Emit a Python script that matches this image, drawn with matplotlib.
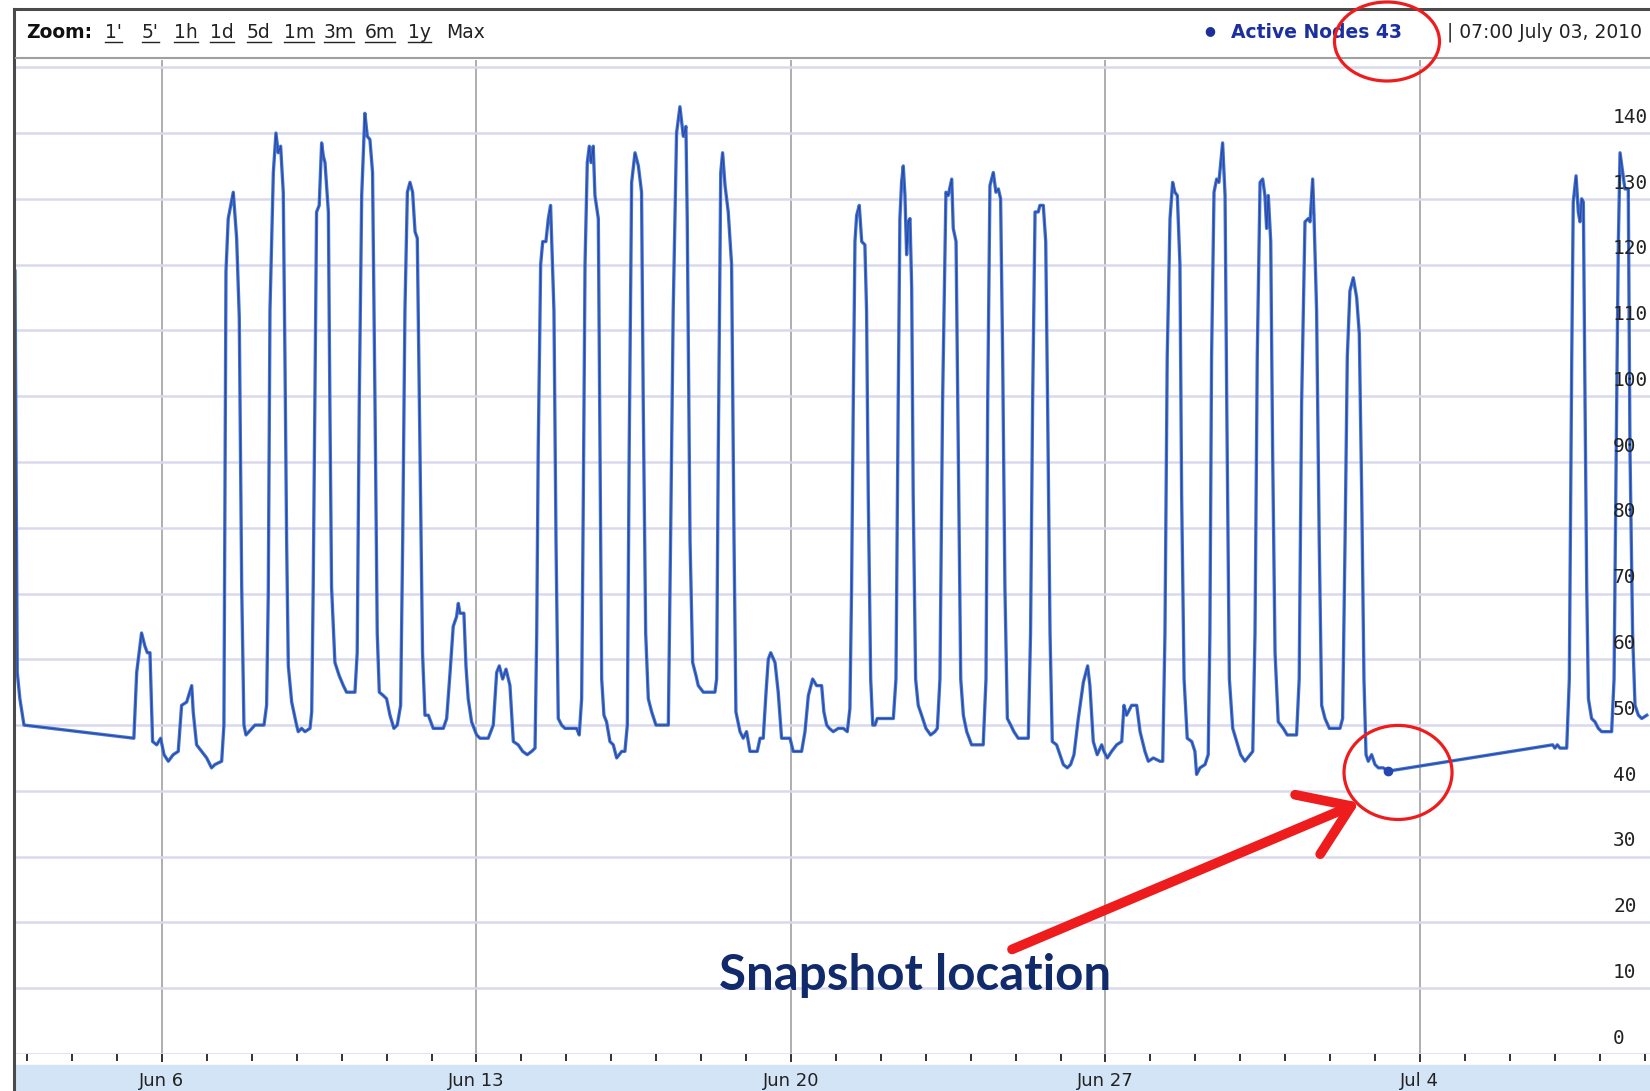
import matplotlib
matplotlib.use("Agg")
import pandas as pd
import matplotlib.pyplot as plt
import matplotlib.dates as mdates
import matplotlib.transforms as mtransforms
from matplotlib.patches import Ellipse, Rectangle
from matplotlib.lines import Line2D

# active nodes, hours after 2010-06-06 00:00
hours = [
    -78.5, -77.3, -75.9, -73.7, -15.0, -13.5, -10.9, -9.1, -7.8, -6.4,
    -5.0, -2.8, -0.7, 1.1, 3.4, 6.0, 8.7, 10.5, 13.2, 15.9,
    16.7, 18.5, 21.2, 23.9, 26.5, 28.3, 31.9, 33.1, 34.2, 35.4,
    38.1, 39.9, 41.3, 42.6, 43.8, 44.9, 49.7, 54.5, 55.9, 56.8,
    57.7, 59.5, 60.9, 62.1, 63.4, 64.8, 65.7, 66.6, 67.5, 69.3,
    71.9, 72.8, 74.6, 76.4, 79.1, 80.0, 80.8, 81.7, 82.6, 84.0,
    85.3, 86.2, 87.1, 88.9, 89.7, 90.6, 92.4, 94.7, 96.9, 98.6,
    103.1, 104.3, 105.4, 106.7, 108.4, 109.7, 111.1, 112.5, 113.8, 115.0,
    116.1, 118.2, 120.0, 121.8, 123.9, 125.7, 127.5, 128.6, 129.8, 131.1,
    132.5, 133.9, 135.2, 136.4, 137.8, 139.2, 140.5, 142.3, 144.9, 150.3,
    152.1, 153.9, 155.6, 157.4, 158.3, 159.2, 161.3, 162.4, 163.6, 165.4,
    168.1, 169.9, 174.3, 177.0, 178.8, 180.2, 182.0, 183.8, 185.9, 187.7,
    190.3, 192.7, 195.1, 197.5, 199.3, 200.2, 201.0, 202.3, 203.4, 205.1,
    206.4, 207.6, 209.4, 210.5, 211.7, 213.5, 215.3, 221.5, 222.9, 224.2,
    225.1, 226.0, 227.2, 228.3, 229.2, 230.4, 231.3, 233.1, 234.0, 234.9,
    236.1, 237.5, 239.3, 241.1, 242.9, 245.6, 247.3, 248.6, 249.6, 250.9,
    252.7, 254.5, 256.2, 257.1, 258.4, 259.8, 261.6, 263.9, 270.5, 271.7,
    273.1, 274.9, 276.7, 278.5, 279.9, 280.6, 282.1, 283.5, 285.3, 286.5,
    289.2, 295.4, 296.3, 297.2, 298.5, 299.5, 300.8, 302.5, 304.3, 305.6,
    306.6, 308.8, 310.5, 312.3, 314.1, 318.0, 319.5, 321.2, 322.7, 323.9,
    325.2, 327.5, 329.2, 331.0, 335.5, 337.2, 341.7, 343.5, 345.3, 347.6,
    349.7, 352.4, 353.6, 355.1, 356.5, 358.6, 361.3, 364.0, 366.1, 367.5,
    368.4, 369.3, 370.2, 371.1, 372.5, 373.8, 375.5, 376.4, 377.3, 378.6,
    379.7, 380.9, 382.1, 390.7, 392.1, 393.3, 394.2, 395.1, 396.0, 396.9,
    397.8, 398.7, 399.6, 400.5, 401.3, 402.6, 404.0, 405.8, 408.1, 410.6,
    412.9, 414.2, 415.6, 417.0, 418.8, 420.0, 421.9, 422.7, 424.2, 425.4,
    426.7, 428.1, 429.9, 432.5, 438.7, 440.2, 441.1, 442.3, 444.1, 445.5,
    446.8, 448.0, 449.1, 450.3, 451.6, 453.4, 455.1, 457.4, 462.8, 464.0,
    465.1, 466.4, 468.1, 469.0, 470.8, 472.1, 473.1, 474.4, 475.6, 477.9,
    479.7, 481.5, 483.6, 485.4, 487.2, 489.5, 492.2, 494.5, 495.7, 497.5,
    499.6, 502.0, 503.2, 505.0, 507.3, 510.0, 512.7, 513.9, 515.3, 518.0,
    520.7, 522.5, 525.1, 526.9, 529.6, 533.1, 534.6, 535.8, 537.0, 538.5,
    539.9, 541.1, 542.4, 543.8, 544.7, 546.0, 547.7, 550.1, 551.8, 552.7,
    554.5, 557.2, 558.9, 559.8, 560.7, 562.0, 563.4, 564.6, 566.6, 567.9,
    568.8, 570.2, 572.0, 574.1, 576.2, 578.5, 582.7, 583.9, 585.1, 586.6,
    588.0, 589.2, 590.1, 591.0, 592.3, 593.3, 594.6, 596.3, 599.0, 601.1,
    606.1, 607.5, 608.8, 610.6, 612.4, 613.3, 614.7, 615.4, 616.8, 618.2,
    619.5, 621.3, 623.6, 629.3, 630.7, 632.0, 633.2, 634.6, 636.4, 638.2,
    639.6, 640.9, 642.1, 643.2, 644.4, 646.2, 648.0, 649.8, 652.4, 655.0,
    742.9, 744.1, 745.4, 746.8, 750.4, 751.8, 753.1, 753.9, 755.4, 756.6,
    757.5, 758.4, 759.3, 760.2, 761.1, 762.0, 763.7, 765.5, 767.3, 769.1,
    774.4, 775.7, 777.1, 778.0, 778.9, 780.3, 781.5, 783.3, 784.2, 785.6,
    786.9, 788.7, 790.5, 793.2,
]
nodes = [
    119, 58, 54, 50, 48, 58, 64, 62, 61, 61,
    47.5, 47, 48, 45.5, 44.5, 45.5, 46, 53, 53.5, 56,
    52, 47, 46, 45, 43.5, 44, 44.5, 50, 119, 127,
    131, 124, 112, 71, 50, 48.5, 50, 50, 53, 70,
    113, 134, 140, 137, 138, 131, 106, 78, 59, 53.5,
    50, 49, 49.5, 49, 49.5, 52, 71, 99, 128, 129,
    138.5, 136.5, 135.5, 128, 99, 71, 59.5, 57.5, 56, 55,
    55, 61, 99, 130.5, 143, 139.5, 139, 134, 99, 64,
    55, 54.5, 54, 51.5, 49.5, 50, 53, 78, 113, 131,
    132.5, 131, 125, 124, 92, 61, 51.5, 51.5, 49.5, 49.5,
    51, 58, 65, 66.5, 68.5, 67, 67, 59, 54, 50.5,
    48.5, 48, 48, 50, 58, 59, 57, 58.5, 56, 47.5,
    47, 46, 45.5, 46, 46.5, 64, 92, 120, 123.5, 123.5,
    127, 129, 113, 78, 51, 50, 49.5, 49.5, 48.5, 54,
    85, 120, 135.5, 138, 135.5, 138, 130.5, 127, 92, 57,
    51.5, 50.5, 47.5, 47, 45, 46, 46, 50, 92, 132.5,
    137, 135, 131, 99, 64, 54, 52, 50, 50, 78,
    113, 140, 144, 139.5, 141, 127, 78, 59.5, 57.5, 56,
    55, 55, 57, 92, 134, 137, 132, 128, 120, 78,
    52, 49, 48, 49, 46, 46, 48, 48, 55, 60,
    61, 59.5, 55, 48, 48, 46, 46, 49, 54.5, 57,
    56, 56, 52, 50, 49.5, 49, 49.5, 49.5, 49, 52.5,
    71, 99, 123.5, 127.5, 129, 123.5, 123, 113, 85, 57,
    50, 50, 51, 51, 57, 99, 127, 132.5, 135, 130.5,
    121.5, 126.5, 127, 116.5, 85, 57, 53, 51.5, 49.5, 48.5,
    49, 49.5, 57, 99, 131, 130.5, 133, 125.5, 123.5, 92,
    57, 51.5, 49, 47, 47, 57, 99, 132, 134, 131,
    131.5, 130, 106, 71, 51, 50, 49, 48, 48, 64,
    99, 128, 128, 129, 129, 123.5, 99, 64, 47.5, 47,
    45.5, 44, 43.5, 44, 45.5, 51, 56.5, 59, 56, 47.5,
    45.5, 47, 46, 45, 46, 47, 47.5, 53, 51.5, 53,
    53, 49, 46, 44.5, 45, 44.5, 44.5, 64, 106, 127,
    132.5, 131, 130.5, 120, 85, 57, 48, 47.5, 46, 42.5,
    43.5, 44, 45.5, 64, 106, 131, 133, 132.5, 138.5, 130.5,
    99, 57, 49.5, 47.5, 45.5, 44.5, 46, 64, 106, 132.5,
    133, 130.5, 125.5, 130.5, 123.5, 92, 61, 50.5, 49.5, 48.5,
    48.5, 57, 99, 126.5, 127, 126.5, 133, 127.5, 113, 78,
    53, 51, 49.5, 49.5, 51, 78, 106, 116, 118, 115,
    109.5, 85, 57, 45.5, 44.5, 45.5, 44, 43.5, 43.5, 43,
    47, 46.5, 47, 46.5, 46.5, 57, 106, 129.5, 133.5, 128,
    126.5, 130, 129.5, 99, 71, 54, 51, 50.5, 49.5, 49,
    49, 57, 99, 123.5, 137, 134, 131.5, 131.5, 92, 64,
    53, 51.5, 51, 51.5,
]

start = pd.Timestamp("2010-06-06")
week_days = ["2010-06-06", "2010-06-13", "2010-06-20", "2010-06-27", "2010-07-04"]
week_labels = ["Jun 6", "Jun 13", "Jun 20", "Jun 27", "Jul 4"]
y_levels = list(range(0, 160, 10))
zoom_links = ["1'", "5'", "1h", "1d", "5d", "1m", "3m", "6m", "1y"]
snap_time = pd.Timestamp("2010-07-03 07:00")
snap_value = 43

W, H = 1650, 1091
RED = "#ee1c1c"
NAVY = "#1b2f9e"


def fx(x):
    return x / W


def fy(y):
    return 1 - y / H


fig = plt.figure(figsize=(W / 100, H / 100), dpi=100)
fig.patch.set_facecolor("white")

# blue date band under the axis
fig.add_artist(Rectangle((fx(15), 0), 1 - fx(15), 26 / H, transform=fig.transFigure,
                         color="#d3e4f7", zorder=-1))

ax = fig.add_axes([fx(15), fy(1054), 1 - fx(15), (1054 - 60) / H])
times = start + pd.to_timedelta(hours, unit="h")
ax.plot(times, nodes, color="#4275d2", lw=2.4, solid_joinstyle="round")
ax.plot(times, nodes, color="#22318f", lw=0.8, alpha=0.7)
ax.plot([snap_time], [snap_value], "o", color="#2447b0", ms=6)

ax.set_xlim(start + pd.Timedelta(hours=-78.5), start + pd.Timedelta(hours=794.9))
ax.set_ylim(0, 151.1)
ax.set_yticks(y_levels)
ax.yaxis.grid(True, color="#d9d9ec", lw=1.8)
ax.tick_params(axis="y", left=False, labelleft=False)
ax.set_xticks(pd.to_datetime(week_days))
ax.set_xticklabels(week_labels)
ax.xaxis.set_minor_locator(mdates.DayLocator())
ax.xaxis.grid(True, which="major", color="#a8a8a8", lw=1.3)
ax.set_axisbelow(True)
ax.tick_params(axis="x", which="both", direction="out", color="#333333", width=1.4,
               length=5, pad=7, labelsize=13, labelcolor="#222222")
ax.tick_params(axis="x", which="major", length=6)
for s in ax.spines.values():
    s.set_visible(False)

# value labels sit just above their grid lines, inside the plot
lab_tr = mtransforms.blended_transform_factory(ax.transAxes, ax.transData)
for v in y_levels:
    ax.text(0.9774, v + 2.4, str(v), transform=lab_tr, fontsize=14, clip_on=True,
            family="DejaVu Sans Mono", color="#222222", va="center", ha="left")

# frame and header
fig.add_artist(Line2D([fx(14), 1], [fy(9), fy(9)], color="#4a4a4a", lw=2.2))
fig.add_artist(Line2D([fx(14), fx(14)], [0, fy(9)], color="#4a4a4a", lw=2.2))
fig.add_artist(Line2D([fx(16), 1], [fy(58), fy(58)], color="#a0a0a0", lw=1.5))

fig.text(fx(26), fy(33), "Zoom:", fontsize=13.5, weight="bold", va="center", color="#111111")
link_x = [105, 142, 174, 210, 247, 284, 324, 365, 408]
renderer = fig.canvas.get_renderer()
for lab, x in zip(zoom_links, link_x):
    t = fig.text(fx(x), fy(33), lab, fontsize=13.5, va="center", color="#222222")
    bb = t.get_window_extent(renderer)
    fig.add_artist(Line2D([fx(bb.x0), fx(bb.x1)], [fy(42), fy(42)], color="#222222", lw=1.0))
fig.text(fx(446), fy(33), "Max", fontsize=13.5, va="center", color="#222222")

fig.text(fx(1642), fy(32), "| " + snap_time.strftime("%H:%M %B %d, %Y"), fontsize=13.5,
         ha="right", va="center", color="#222222")
fig.text(fx(1402), fy(32), f"Active Nodes {snap_value}", fontsize=13.5, weight="bold",
         ha="right", va="center", color=NAVY)
fig.text(fx(1210), fy(31), "\u25cf", fontsize=9, ha="center", va="center", color=NAVY)

# hand-drawn annotations
fig.add_artist(Ellipse((fx(1387), fy(41.5)), 105 / W, 79 / H, transform=fig.transFigure,
                       fill=False, ec=RED, lw=2.3, zorder=5))
circ_c = start + pd.Timedelta(hours=660.3)
ax.add_patch(Ellipse((mdates.date2num(circ_c), 42.8), 57.7 / 24, 14.3, fill=False,
                     ec=RED, lw=2.3, zorder=5, clip_on=False))
ax.annotate("", xy=(start + pd.Timedelta(hours=639.5), 38.2),
            xytext=(start + pd.Timedelta(hours=454.1), 15.9),
            arrowprops=dict(arrowstyle="->,head_length=0.85,head_width=0.58", lw=7,
                            color=RED, mutation_scale=40, shrinkA=0, shrinkB=0),
            zorder=6)
fig.text(fx(915.5), fy(975.5), "Snapshot location", fontsize=35.5, weight="bold",
         family="Lato", ha="center", va="center", color="#102a6b")

fig.savefig("out.png", dpi=100)
